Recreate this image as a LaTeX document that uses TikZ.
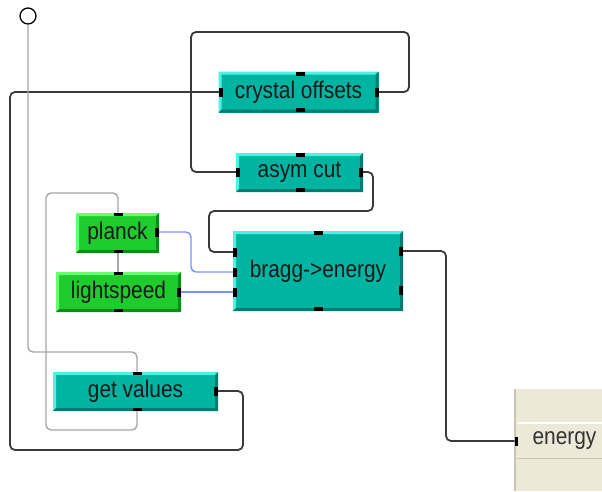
\documentclass[tikz,border=0pt]{standalone}
\usepackage{fontspec}
\setmainfont[FakeStretch=0.87]{Liberation Sans}
\definecolor{tealfill}{HTML}{00B4A2}
\definecolor{tealhi}{HTML}{4FF2E2}
\definecolor{tealsh}{HTML}{007C70}
\definecolor{greenfill}{HTML}{1ECC2E}
\definecolor{greenhi}{HTML}{66FF6E}
\definecolor{greensh}{HTML}{0A8E18}
\definecolor{wiredark}{HTML}{3A3A3A}
\definecolor{wiregray}{HTML}{A6A6A6}
\definecolor{wireblue}{HTML}{7A90FF}
\definecolor{panelfill}{HTML}{ECE9D8}
\definecolor{paneledge}{HTML}{C9C5B2}
\begin{document}
\begin{tikzpicture}[x=1pt, y=-1pt,
    every node/.style={font=\fontsize{24}{28}\selectfont, text=black!90},
    bevel/.style 2 args={path picture={
        \fill[#1] (path picture bounding box.north west) -- (path picture bounding box.north east)
            -- ([shift={(-3pt,-3pt)}]path picture bounding box.north east)
            -- ([shift={(3pt,-3pt)}]path picture bounding box.north west)
            -- ([shift={(3pt,3pt)}]path picture bounding box.south west)
            -- (path picture bounding box.south west) -- cycle;
        \fill[#2] (path picture bounding box.south east) -- (path picture bounding box.south west)
            -- ([shift={(3pt,3pt)}]path picture bounding box.south west)
            -- ([shift={(-3pt,3pt)}]path picture bounding box.south east)
            -- ([shift={(-3pt,-3pt)}]path picture bounding box.north east)
            -- (path picture bounding box.north east) -- cycle;}},
    tealbox/.style={fill=tealfill, bevel={tealhi}{tealsh}, inner sep=0},
    greenbox/.style={fill=greenfill, bevel={greenhi}{greensh}, inner sep=0},
    ph/.style={fill=black, inner sep=0, minimum width=9, minimum height=3.5},
    pv/.style={fill=black, inner sep=0, minimum width=3.5, minimum height=9},
    darkwire/.style={draw=wiredark, line width=1.8, rounded corners=5},
    graywire/.style={draw=wiregray, line width=1.4, rounded corners=5},
    bluewire/.style={draw=wireblue, line width=1.4, rounded corners=5}]
    \useasboundingbox (0,0) rectangle (602,491);

    % input terminal
    \node (src) at (28,16) [circle, draw, line width=1.3, minimum size=16, inner sep=0] {};

    % blocks
    \node (crystal) at (298.5,92) [tealbox, minimum width=160, minimum height=41] {crystal offsets};
    \node (asym) at (299.5,172.5) [tealbox, minimum width=127, minimum height=39] {asym cut};
    \node (bragg) at (318,271) [tealbox, minimum width=170, minimum height=80] {bragg->energy};
    \node (planck) at (117.5,233) [greenbox, minimum width=83, minimum height=40] {planck};
    \node (light) at (118.5,292) [greenbox, minimum width=125, minimum height=40] {lightspeed};
    \node (values) at (135.5,391.5) [tealbox, minimum width=165, minimum height=39] {get values};

    % output panel
    \node (panel) at (515,389) [anchor=north west, fill=panelfill, inner sep=0, minimum width=87, minimum height=102] {};
    \draw[paneledge, line width=1.5] (panel.north west) -- (panel.south west);
    \draw[white, line width=1.5] (517,423) -- (602,423);
    \draw[paneledge, line width=1] (517,458) -- (602,458);
    \node (energy) at (529,441) [anchor=west, text=black!80] {energy};

    % ports
    \node (crystal-t) at (300,74) [ph] {};
    \node (crystal-b) at (300,110) [ph] {};
    \node (crystal-l) at (221,92) [pv] {};
    \node (crystal-r) at (377,92) [pv] {};
    \node (asym-t) at (300,155) [ph] {};
    \node (asym-b) at (300,190) [ph] {};
    \node (asym-l) at (238,172) [pv] {};
    \node (asym-r) at (361,172) [pv] {};
    \node (bragg-t) at (318,233) [ph] {};
    \node (bragg-b) at (318,309) [ph] {};
    \node (bragg-l1) at (235,252) [pv] {};
    \node (bragg-l2) at (235,272) [pv] {};
    \node (bragg-l3) at (235,292) [pv] {};
    \node (bragg-r1) at (401,251) [pv] {};
    \node (bragg-r2) at (401,290) [pv] {};
    \node (planck-t) at (118,214.5) [ph] {};
    \node (planck-b) at (118,251.5) [ph] {};
    \node (planck-r) at (157,232) [pv] {};
    \node (light-t) at (118,273.5) [ph] {};
    \node (light-b) at (118,310.5) [ph] {};
    \node (light-r) at (179,292) [pv] {};
    \node (values-t) at (137,373.5) [ph] {};
    \node (values-b) at (137,409.5) [ph] {};
    \node (values-r) at (216,391) [pv] {};
    \node (energy-p) at (516.5,441) [pv] {};

    % wires
    \draw[darkwire] (crystal-r) -- (409,92) |- (191,32) |- (asym-l);
    \draw[darkwire] (asym-r) -- (373,172) |- (209,211) |- (bragg-l1);
    \draw[darkwire] (values-r) -| (243,450) -| (10,92) -- (crystal-l);
    \draw[darkwire] (bragg-r1) -| (446,441) -- (energy-p);
    \draw[bluewire] (planck-r) -| (191,272) -- (bragg-l2);
    \draw[bluewire] (light-r) -- (bragg-l3);
    \draw[graywire] (planck-b) -- (light-t);
    \draw[graywire] (planck-t) |- (46,193) |- (137,430) -- (values-b);
    \draw[graywire] (src) |- (137,352) -- (values-t);
\end{tikzpicture}
\end{document}
